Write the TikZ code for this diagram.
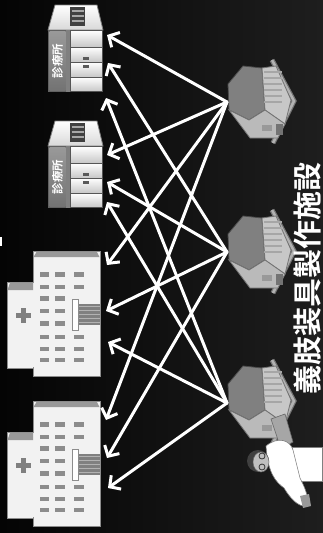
\documentclass[tikz,border=0pt]{standalone}
\usepackage{fontspec}
\newfontfamily\jp{Noto Sans CJK JP}[BoldFont={Noto Sans CJK JP Bold}]
\usetikzlibrary{arrows.meta}

\definecolor{bgL}{RGB}{4,4,4}
\definecolor{bgR}{RGB}{30,30,30}
\definecolor{edge}{RGB}{85,85,85}
\definecolor{winc}{RGB}{140,140,140}

\tikzset{
  link/.style={draw=white, line width=3pt, line cap=round, line join=round,
    -{Straight Barb[length=8pt,width=17pt]}},
  panel/.style={top color=white, bottom color=black!22, draw=edge, line width=0.8pt},
  win/.style={fill=winc},
  wall/.style={fill=white!95!black, draw=black!45, line width=0.8pt},
  roofstrip/.style={fill=black!40},
  label/.style={text=white, rotate=90, inner sep=0pt},
}

% a small clinic building, drawn in absolute coordinates and shifted down by #1
\newcommand\clinicbuilding[2]{%
  \begin{scope}[shift={(0,#1)}]
    \shade[top color=white, bottom color=black!15, draw=black!50, line width=0.8pt]
      (55,5) -- (97,5) -- (103,30) -- (48,30) -- cycle;
    \fill[black!75] (70,7) rectangle (85,26);
    \draw[black!35, line width=1.3pt] (71.5,11) -- (83.5,11) (71.5,16) -- (83.5,16) (71.5,21) -- (83.5,21);
    \fill[black!62] (48,30) rectangle (103,92);
    \shade[top color=black!40, bottom color=black!55] (49.5,31.5) rectangle (65.5,90.5);
    \fill[black!50] (66,30) rectangle (70,92);
    \shade[panel] (70,30.5) rectangle (102.5,47);
    \shade[panel] (70,47) rectangle (102.5,62);
    \shade[panel] (70,62) rectangle (102.5,77);
    \shade[panel] (70,77) rectangle (102.5,91.5);
    \fill[black!65] (82.5,56.5) rectangle (88.5,59.5);
    \fill[black!65] (82.5,65) rectangle (88.5,68);
    \node[label, font=\jp\bfseries\fontsize{11.5}{12}\selectfont] (#2) at (57.5,61) {診療所};
  \end{scope}}

% a hospital with a side wing, shifted down by #1
\newcommand\hospitalbuilding[1]{%
  \begin{scope}[shift={(0,#1)}]
    \fill[wall] (33,251.5) rectangle (100,376);
    \fill[roofstrip] (36.5,252) -- (97,252) -- (99.5,257) -- (33.5,257) -- cycle;
    \fill[wall] (7,282) rectangle (33,368);
    \fill[white!95!black] (31,283) rectangle (35,367);
    \fill[roofstrip] (10,282.5) -- (33,282.5) -- (33,290) -- (7.5,290) -- cycle;
    % red-cross sign
    \fill[black!50] (15.5,313) rectangle (31,317.5);
    \fill[black!50] (21,307.5) rectangle (25.5,323);
    % windows
    \foreach \wy in {274.3,286.7,298.3,311,323.3,336.7,349,360}{
      \fill[win] (40,\wy-2.2) rectangle (48.5,\wy+2.2);
      \fill[win] (55,\wy-2.2) rectangle (65,\wy+2.2);}
    \foreach \wy in {274.3,286.7,336.7,349,360}{
      \fill[win] (73.5,\wy-2.2) rectangle (83.5,\wy+2.2);}
    % entrance with canopy
    \fill[black!50] (78,304) rectangle (100,325);
    \foreach \sy in {306,310,314,318,322}{
      \draw[black!30, line width=1pt] (79,\sy) -- (99.5,\sy);}
    \fill[white, draw=black!45, line width=0.8pt] (72.5,299) rectangle (78.5,330);
  \end{scope}}

% a factory block with its roof plate, shifted down by #1
\newcommand\factory[1]{%
  \begin{scope}[shift={(0,#1)}]
    \draw[black!55, line width=5pt, line join=miter] (272,60) -- (294,101) -- (273,143);
    \draw[black!30, line width=2.5pt, line join=miter] (272,60) -- (294,101) -- (273,143);
    \fill[black!50, draw=black!70, line width=0.8pt]
      (228,84) -- (243,66) -- (262,68) -- (265,110) -- (249,120) -- (229,110) -- cycle;
    \fill[black!22, draw=black!55, line width=0.8pt]
      (262,68) -- (276,66) -- (291,100) -- (285,124) -- (265,110) -- cycle;
    \foreach \sy in {72,78,84,90,96,102}{
      \draw[black!35, line width=2pt] (264,\sy) -- (282,\sy);}
    \fill[black!27, draw=black!55, line width=0.8pt]
      (229,110) -- (249,120) -- (265,110) -- (285,124) -- (278,138) -- (250,138) -- cycle;
    \fill[black!40] (262,125) rectangle (272,131);
    \fill[black!55] (276,124) rectangle (283,135);
  \end{scope}}

\begin{document}
\begin{tikzpicture}[x=1pt,y=-1pt]
  \useasboundingbox (0,0) rectangle (323,533);
  \shade[left color=bgL, right color=bgR] (0,0) rectangle (323,533);
  \fill[white] (0,237) rectangle (2,246);

  % clinics and hospitals
  \clinicbuilding{0}{clinicA}
  \clinicbuilding{116}{clinicB}
  \hospitalbuilding{0}
  \hospitalbuilding{150}

  % factories
  \factory{0}
  \factory{150}
  \factory{300}

  % technician carrying a fitting
  \fill[black!35, draw=black!60, line width=0.6pt] (271,419) -- (285,414) -- (293,442) -- (281,449) -- cycle;
  \fill[white, draw=black!50, line width=0.6pt] (292,447) rectangle (322,481);
  \fill[white, draw=black!50, line width=0.6pt]
    (266,446) .. controls (278,436) and (290,440) .. (293,450)
    -- (300,478) .. controls (306,490) and (310,500) .. (306,506)
    .. controls (298,507) and (290,498) .. (284,488)
    .. controls (276,482) and (268,474) .. (266,446) -- cycle;
  \fill[black!40] (300,496) -- (309,494) -- (311,506) -- (303,508) -- cycle;
  \fill[black!75] (258,461) circle (11);
  \fill[black!25, draw=black!60, line width=0.5pt] (261,462) ellipse (8 and 10);
  \draw[black!80, line width=0.8pt] (262,456) circle (3) (262,467) circle (3);

  % title
  \node[label, font=\jp\bfseries\fontsize{29}{29}\selectfont] (title) at (307.5,278) {義肢装具製作施設};

  % connection end points
  \coordinate (s1) at (227,102);
  \coordinate (s2) at (227,252);
  \coordinate (s3) at (227,403);
  \coordinate (c1a) at (107,35);  \coordinate (c1b) at (108,63);  \coordinate (c1c) at (106,98);
  \coordinate (c2a) at (107,155); \coordinate (c2b) at (107,182); \coordinate (c2c) at (107,202);
  \coordinate (h1a) at (107,265); \coordinate (h1b) at (106,311); \coordinate (h1c) at (108,342);
  \coordinate (h2a) at (106,420); \coordinate (h2b) at (107,458); \coordinate (h2c) at (108,488);

  % every workshop supplies every clinic and hospital
  \foreach \t in {c1a,c2a,h1a,h2a} \draw[link] (s1) -- (\t);
  \foreach \t in {c1b,c2b,h1b,h2b} \draw[link] (s2) -- (\t);
  \foreach \t in {c1c,c2c,h1c,h2c} \draw[link] (s3) -- (\t);
\end{tikzpicture}
\end{document}
